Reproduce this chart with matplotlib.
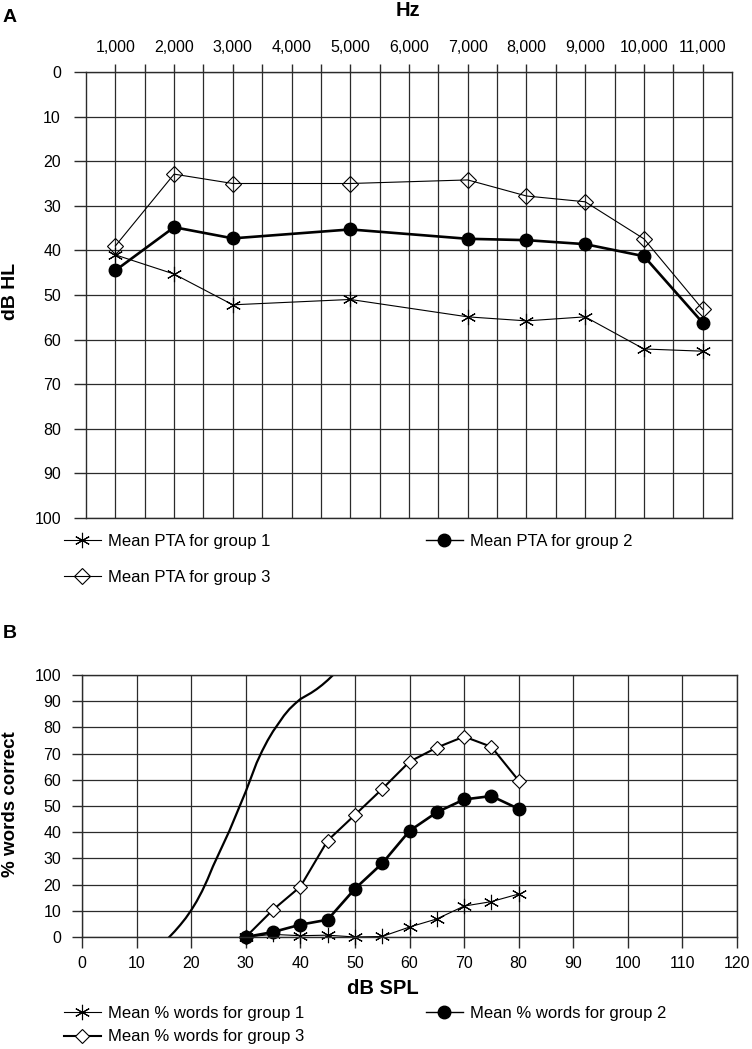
import matplotlib
matplotlib.use('Agg')
import matplotlib.pyplot as plt
from matplotlib.lines import Line2D
from matplotlib.ticker import MultipleLocator

plt.rcParams['font.family'] = ['Liberation Sans', 'DejaVu Sans']

# panel A: pure tone audiometry
hz = [1000, 2000, 3000, 5000, 7000, 8000, 9000, 10000, 11000]
hz_ticks = [1000, 2000, 3000, 4000, 5000, 6000, 7000, 8000, 9000, 10000, 11000]
hz_labels = ['1,000', '2,000', '3,000', '4,000', '5,000', '6,000',
             '7,000', '8,000', '9,000', '10,000', '11,000']
pta_g1 = [41.0, 45.3, 52.2, 51.0, 54.9, 55.8, 54.9, 62.1, 62.6]
pta_g2 = [44.5, 34.8, 37.3, 35.3, 37.4, 37.7, 38.6, 41.3, 56.2]
pta_g3 = [39.0, 22.9, 25.0, 25.0, 24.2, 27.8, 29.1, 37.4, 53.2]

# panel B: speech audiometry
spl = [30, 35, 40, 45, 50, 55, 60, 65, 70, 75, 80]
words_g1 = [0, 1.0, 0.5, 0.7, 0, 0.2, 3.8, 6.9, 11.8, 13.5, 16.4]
words_g2 = [0, 1.9, 4.7, 6.6, 18.4, 28.1, 40.5, 47.6, 52.5, 53.8, 48.9]
words_g3 = [0, 10.4, 19.2, 36.8, 46.6, 56.5, 66.9, 72.3, 76.5, 72.6, 59.7]
norm_spl = [16, 17, 18, 19, 20, 21, 22, 23, 24, 25, 26, 27, 28, 29, 30,
            31, 32, 33, 34, 35, 36, 37, 38, 39, 40, 41, 42, 43, 44, 45, 46]
norm_words = [0, 2.2, 4.6, 7.2, 10.2, 13.6, 17.5, 22, 27, 31.5, 36, 40.5, 45.5, 50.5, 55.5,
              61, 66.5, 71, 75, 78.5, 81.5, 84.5, 87, 89, 90.8, 92, 93.2, 94.6, 96.2, 98, 100]

GRID = '#2b2b2b'
TICK = 11.5
LEG = 12

W, H = 752, 1049
fig = plt.figure(figsize=(W / 100, H / 100), dpi=100)


def box(l, t, r, b):
    return [l / W, 1 - b / H, (r - l) / W, (b - t) / H]


def style(ax):
    for s in ax.spines.values():
        s.set_color(GRID)
        s.set_linewidth(1.0)
    ax.grid(True, which='both', color=GRID, linewidth=0.9)
    ax.set_axisbelow(True)


def legends(ax, h1, h2, h3, x_left, x_right, y_top, spacing):
    kw = dict(loc='upper left', bbox_transform=fig.transFigure, frameon=False,
              fontsize=LEG, handlelength=2.2, handletextpad=0.45, borderpad=0,
              borderaxespad=0, numpoints=1)
    leg1 = ax.legend([h1, h3], [h1.get_label(), h3.get_label()],
                     bbox_to_anchor=(x_left / W, 1 - y_top / H),
                     labelspacing=spacing, **kw)
    ax.add_artist(leg1)
    # thin-line handle for the filled-circle series, as in the original key
    proxy = Line2D([], [], color='black', lw=1.0, marker='o', ms=9)
    ax.legend([proxy], [h2.get_label()],
              bbox_to_anchor=(x_right / W, 1 - y_top / H), **kw)


# ---------- A ----------
axA = fig.add_axes(box(86, 72, 732, 518))
style(axA)
a1, = axA.plot(hz, pta_g1, color='black', lw=0.8, marker=(6, 2, 0), ms=11,
               mew=0.8, label='Mean PTA for group 1', clip_on=False)
a3, = axA.plot(hz, pta_g3, color='black', lw=0.8, marker='D', ms=8.5,
               mfc='none', mew=0.8, label='Mean PTA for group 3', clip_on=False)
a2, = axA.plot(hz, pta_g2, color='black', lw=1.9, marker='o', ms=9,
               label='Mean PTA for group 2', clip_on=False)
axA.set_xlim(500, 11500)
axA.set_ylim(100, 0)
axA.set_xticks(hz_ticks)
axA.set_xticklabels(hz_labels)
axA.set_xticks([1500 + 1000 * i for i in range(10)], minor=True)
axA.yaxis.set_major_locator(MultipleLocator(10))
axA.xaxis.tick_top()
axA.tick_params(axis='x', which='both', direction='out', length=6, width=1,
                color=GRID, labelsize=TICK, pad=6)
axA.tick_params(axis='y', direction='out', length=9, width=1, color=GRID,
                labelsize=TICK, pad=9)
fig.text(408 / W, 1 - 10 / H, 'Hz', ha='center', va='center',
         fontsize=14.5, fontweight='bold')
fig.text(11 / W, 1 - 291 / H, 'dB HL', ha='center', va='center',
         rotation=90, fontsize=14, fontweight='bold')
fig.text(3 / W, 1 - 18 / H, 'A', ha='left', va='center',
         fontsize=14, fontweight='bold')
legends(axA, a1, a2, a3, 64, 426, 534, 1.25)

# ---------- B ----------
axB = fig.add_axes(box(82, 675, 737, 937))
style(axB)
axB.plot(norm_spl, norm_words, color='black', lw=1.6)
b1, = axB.plot(spl, words_g1, color='black', lw=0.8, marker=(6, 2, 0), ms=11,
               mew=0.8, label='Mean % words for group 1', clip_on=False)
b3, = axB.plot(spl, words_g3, color='black', lw=1.5, marker='D', ms=7,
               mfc='white', mew=0.8, label='Mean % words for group 3', clip_on=False)
b2, = axB.plot(spl, words_g2, color='black', lw=1.9, marker='o', ms=9,
               label='Mean % words for group 2', clip_on=False)
axB.set_xlim(0, 120)
axB.set_ylim(0, 100)
axB.xaxis.set_major_locator(MultipleLocator(10))
axB.yaxis.set_major_locator(MultipleLocator(10))
axB.tick_params(axis='x', direction='out', length=8, width=1, color=GRID,
                labelsize=TICK, pad=6)
axB.tick_params(axis='y', direction='out', length=7, width=1, color=GRID,
                labelsize=TICK, pad=8)
fig.text(383 / W, 1 - 988 / H, 'dB SPL', ha='center', va='center',
         fontsize=14.5, fontweight='bold')
fig.text(11 / W, 1 - 804 / H, '% words correct', ha='center', va='center',
         rotation=90, fontsize=13.5, fontweight='bold')
fig.text(3 / W, 1 - 633 / H, 'B', ha='left', va='center',
         fontsize=14, fontweight='bold')
legends(axB, b1, b2, b3, 64, 426, 1006, 0.5)

fig.savefig('out.png', dpi=100)
